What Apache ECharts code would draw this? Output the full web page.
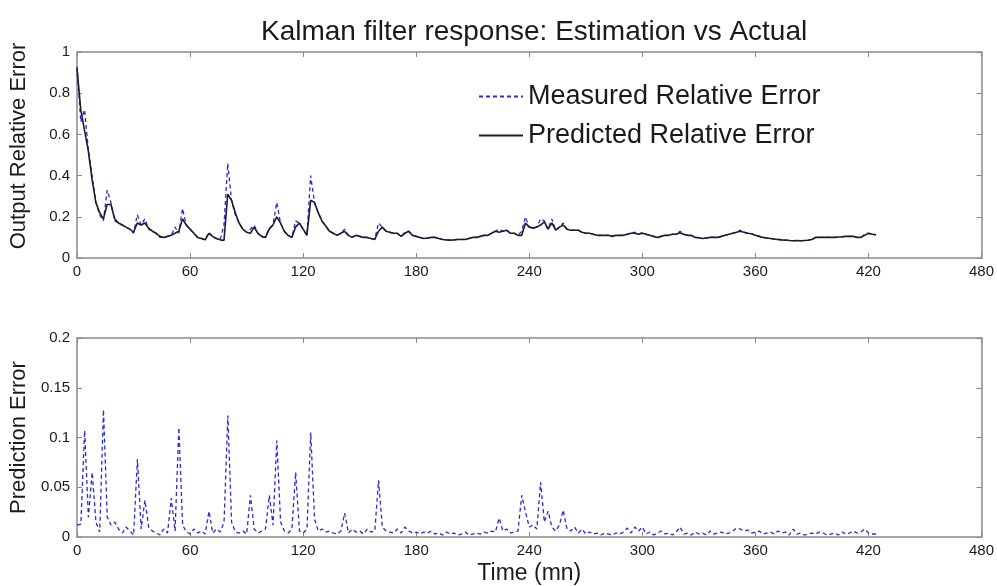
<!DOCTYPE html>
<html>
<head>
<meta charset="utf-8">
<script src="https://cdn.jsdelivr.net/npm/echarts@6/dist/echarts.min.js"></script>
<style>
html,body{margin:0;padding:0;background:#fff;}
#chart{width:997px;height:586px;}
</style>
</head>
<body>
<div id="chart"></div>
<script>
// Time in minutes (sample instants)
const timeMin = [
0,2,4,6,8,10,12,14,16,18,
20,22,24,26,28,30,32,34,36,38,
40,42,44,46,48,50,52,54,56,58,
60,62,64,66,68,70,72,74,76,78,
80,82,84,86,88,90,92,94,96,98,
100,102,104,106,108,110,112,114,116,118,
120,122,124,126,128,130,132,134,136,138,
140,142,144,146,148,150,152,154,156,158,
160,162,164,166,168,170,172,174,176,178,
180,182,184,186,188,190,192,194,196,198,
200,202,204,206,208,210,212,214,216,218,
220,222,224,226,228,230,232,234,236,238,
240,242,244,246,248,250,252,254,256,258,
260,262,264,266,268,270,272,274,276,278,
280,282,284,286,288,290,292,294,296,298,
300,302,304,306,308,310,312,314,316,318,
320,322,324,326,328,330,332,334,336,338,
340,342,344,346,348,350,352,354,356,358,
360,362,364,366,368,370,372,374,376,378,
380,382,384,386,388,390,392,394,396,398,
400,402,404,406,408,410,412,414,416,418,
420,422,424];

// Measured relative error (blue dashed, top panel)
const measuredErr = [
0.93,0.66,0.72,0.53,0.40,0.27,0.21,0.18,0.33,0.27,
0.18,0.17,0.16,0.15,0.14,0.12,0.21,0.16,0.19,0.14,
0.13,0.12,0.10,0.10,0.105,0.11,0.15,0.12,0.24,0.16,
0.14,0.12,0.10,0.095,0.088,0.125,0.10,0.095,0.088,0.16,
0.46,0.28,0.21,0.17,0.14,0.125,0.14,0.16,0.12,0.105,
0.10,0.145,0.16,0.27,0.17,0.13,0.11,0.10,0.18,0.17,
0.14,0.11,0.40,0.27,0.22,0.18,0.155,0.13,0.12,0.11,
0.12,0.14,0.11,0.10,0.11,0.105,0.10,0.10,0.095,0.09,
0.17,0.15,0.13,0.125,0.12,0.12,0.105,0.125,0.13,0.11,
0.105,0.10,0.095,0.097,0.10,0.10,0.095,0.09,0.088,0.087,
0.088,0.09,0.09,0.09,0.095,0.10,0.10,0.105,0.11,0.11,
0.12,0.13,0.14,0.13,0.135,0.12,0.12,0.11,0.13,0.20,
0.15,0.145,0.15,0.19,0.18,0.14,0.19,0.135,0.15,0.17,
0.14,0.135,0.135,0.135,0.125,0.12,0.12,0.115,0.11,0.11,
0.11,0.11,0.105,0.11,0.11,0.11,0.115,0.12,0.125,0.115,
0.125,0.115,0.11,0.105,0.10,0.105,0.11,0.11,0.115,0.115,
0.13,0.115,0.11,0.11,0.10,0.098,0.095,0.097,0.10,0.10,
0.10,0.105,0.11,0.115,0.12,0.125,0.135,0.125,0.12,0.118,
0.11,0.105,0.10,0.097,0.095,0.092,0.09,0.088,0.087,0.085,
0.084,0.085,0.084,0.085,0.086,0.09,0.10,0.10,0.10,0.10,
0.10,0.10,0.102,0.103,0.105,0.105,0.105,0.10,0.10,0.115,
0.12,0.115,0.113];

// Predicted relative error (black solid, top panel)
const predictedErr = [
0.92,0.72,0.62,0.52,0.38,0.27,0.22,0.19,0.26,0.26,
0.19,0.17,0.16,0.15,0.14,0.125,0.17,0.16,0.17,0.145,
0.13,0.12,0.105,0.10,0.105,0.11,0.12,0.13,0.19,0.16,
0.14,0.12,0.10,0.095,0.088,0.12,0.105,0.095,0.088,0.085,
0.31,0.28,0.22,0.17,0.14,0.125,0.12,0.15,0.12,0.105,
0.10,0.14,0.16,0.20,0.17,0.13,0.11,0.10,0.15,0.17,
0.14,0.11,0.28,0.27,0.22,0.18,0.155,0.13,0.12,0.11,
0.12,0.13,0.11,0.10,0.11,0.105,0.10,0.10,0.095,0.09,
0.13,0.15,0.13,0.125,0.12,0.12,0.105,0.12,0.13,0.11,
0.105,0.10,0.095,0.097,0.10,0.10,0.095,0.09,0.088,0.087,
0.088,0.09,0.09,0.09,0.095,0.10,0.10,0.105,0.11,0.11,
0.12,0.13,0.125,0.13,0.135,0.12,0.12,0.11,0.11,0.17,
0.15,0.145,0.15,0.16,0.175,0.14,0.17,0.135,0.15,0.16,
0.14,0.135,0.135,0.135,0.125,0.12,0.12,0.115,0.11,0.11,
0.11,0.11,0.105,0.11,0.11,0.11,0.115,0.12,0.12,0.115,
0.12,0.115,0.11,0.105,0.10,0.105,0.11,0.11,0.115,0.115,
0.123,0.115,0.11,0.11,0.10,0.098,0.095,0.097,0.10,0.10,
0.10,0.105,0.11,0.115,0.12,0.125,0.13,0.125,0.12,0.118,
0.11,0.105,0.10,0.097,0.095,0.092,0.09,0.088,0.087,0.085,
0.084,0.085,0.084,0.085,0.086,0.09,0.10,0.10,0.10,0.10,
0.10,0.10,0.102,0.103,0.105,0.105,0.105,0.10,0.10,0.11,
0.12,0.115,0.113];

// Prediction error (blue dashed, bottom panel)
const predictionErr = [
0.012,0.013,0.107,0.02,0.065,0.015,0.005,0.128,0.02,0.012,
0.015,0.008,0.004,0.01,0.006,0.002,0.078,0.008,0.037,0.01,
0.006,0.004,0.002,0.008,0.004,0.039,0.006,0.11,0.012,0.005,
0.003,0.008,0.004,0.006,0.003,0.026,0.004,0.008,0.005,0.015,
0.122,0.015,0.005,0.004,0.006,0.003,0.042,0.008,0.004,0.006,
0.008,0.042,0.012,0.097,0.015,0.006,0.004,0.008,0.065,0.006,
0.004,0.008,0.105,0.018,0.006,0.008,0.005,0.006,0.004,0.003,
0.006,0.024,0.004,0.008,0.005,0.006,0.003,0.008,0.005,0.006,
0.057,0.01,0.006,0.005,0.004,0.008,0.004,0.01,0.006,0.004,
0.005,0.003,0.005,0.004,0.006,0.003,0.004,0.002,0.005,0.003,
0.004,0.002,0.003,0.005,0.002,0.003,0.004,0.003,0.005,0.004,
0.006,0.005,0.019,0.006,0.008,0.004,0.005,0.006,0.042,0.025,
0.01,0.012,0.008,0.055,0.015,0.026,0.01,0.006,0.012,0.027,
0.008,0.006,0.01,0.004,0.008,0.003,0.005,0.003,0.004,0.002,
0.004,0.003,0.002,0.004,0.003,0.005,0.009,0.004,0.01,0.006,
0.01,0.003,0.005,0.002,0.004,0.006,0.003,0.004,0.002,0.005,
0.01,0.003,0.004,0.002,0.005,0.003,0.004,0.002,0.006,0.003,
0.004,0.005,0.003,0.004,0.006,0.009,0.008,0.006,0.007,0.004,
0.005,0.006,0.003,0.004,0.005,0.003,0.006,0.004,0.005,0.002,
0.008,0.003,0.004,0.002,0.003,0.004,0.003,0.005,0.004,0.002,
0.003,0.004,0.002,0.005,0.003,0.004,0.006,0.004,0.005,0.008,
0.004,0.003,0.003];

const xTicks = {min: 0, max: 480, interval: 60};
const topYTicks = {min: 0, max: 1, interval: 0.2};
const botYTicks = {min: 0, max: 0.2, interval: 0.05};

const FONT = '"Liberation Sans", Arial, Helvetica, sans-serif';
const AXIS_COLOR = '#8a8a8a';
const TEXT_COLOR = '#1a1a1a';

function pairs(xs, ys){ return xs.map((x, i) => [x, ys[i]]); }

function xAxisCfg(grid, pos, showLabel, extra){
  return Object.assign({
    type: 'value', gridIndex: grid, position: pos,
    min: xTicks.min, max: xTicks.max, interval: xTicks.interval,
    axisLine: {show: true, onZero: false, lineStyle: {color: AXIS_COLOR, width: 1.5}},
    axisTick: {show: true, inside: true, length: 5, lineStyle: {color: AXIS_COLOR}},
    axisLabel: {show: showLabel, fontFamily: FONT, fontSize: 15, color: TEXT_COLOR, margin: 6},
    splitLine: {show: false}
  }, extra || {});
}
function yAxisCfg(grid, pos, showLabel, ticks, extra){
  return Object.assign({
    type: 'value', gridIndex: grid, position: pos,
    min: ticks.min, max: ticks.max, interval: ticks.interval,
    axisLine: {show: true, onZero: false, lineStyle: {color: AXIS_COLOR, width: 1.5}},
    axisTick: {show: true, inside: true, length: 5, lineStyle: {color: AXIS_COLOR}},
    axisLabel: {show: showLabel, fontFamily: FONT, fontSize: 15, color: TEXT_COLOR, margin: 7},
    splitLine: {show: false}
  }, extra || {});
}

const chart = echarts.init(document.getElementById('chart'), null, {renderer: 'canvas'});
chart.setOption({
  backgroundColor: '#ffffff',
  animation: false,
  title: {
    text: 'Kalman filter response: Estimation vs Actual',
    left: 256, top: 13,
    textStyle: {fontFamily: FONT, fontSize: 28, fontWeight: 'normal', color: TEXT_COLOR}
  },
  legend: {
    data: ['Measured Relative Error', 'Predicted Relative Error'],
    orient: 'vertical', left: 473, top: 78,
    itemWidth: 44, itemHeight: 14, itemGap: 12,
    itemStyle: {opacity: 0},
    textStyle: {fontFamily: FONT, fontSize: 27, color: TEXT_COLOR},
    selectedMode: false
  },
  grid: [
    {left: 75, right: 11, top: 52, height: 206},
    {left: 75, right: 11, top: 338, height: 205}
  ],
  xAxis: [
    xAxisCfg(0, 'bottom', true),
    xAxisCfg(0, 'top', false),
    xAxisCfg(1, 'bottom', true, {
      name: 'Time (mn)', nameLocation: 'middle', nameGap: 25,
      nameTextStyle: {fontFamily: FONT, fontSize: 23, color: TEXT_COLOR}
    }),
    xAxisCfg(1, 'top', false)
  ],
  yAxis: [
    yAxisCfg(0, 'left', true, topYTicks, {
      name: 'Output Relative Error', nameLocation: 'middle', nameGap: 47,
      nameTextStyle: {fontFamily: FONT, fontSize: 22, color: TEXT_COLOR, padding: [0, 0, 0, 18]}
    }),
    yAxisCfg(0, 'right', false, topYTicks),
    yAxisCfg(1, 'left', true, botYTicks, {
      name: 'Prediction Error', nameLocation: 'middle', nameGap: 47,
      nameTextStyle: {fontFamily: FONT, fontSize: 22, color: TEXT_COLOR}
    }),
    yAxisCfg(1, 'right', false, botYTicks)
  ],
  series: [
    {
      name: 'Measured Relative Error', type: 'line', xAxisIndex: 0, yAxisIndex: 0,
      data: pairs(timeMin, measuredErr), symbol: 'none', showSymbol: false,
      lineStyle: {color: '#2a2ad6', width: 1.3, type: [4, 3]},
      itemStyle: {color: '#2a2ad6'}, z: 2
    },
    {
      name: 'Predicted Relative Error', type: 'line', xAxisIndex: 0, yAxisIndex: 0,
      data: pairs(timeMin, predictedErr), symbol: 'none', showSymbol: false,
      lineStyle: {color: '#1c1c2c', width: 1.6},
      itemStyle: {color: '#1c1c2c'}, z: 3
    },
    {
      name: 'Prediction Error', type: 'line', xAxisIndex: 2, yAxisIndex: 2,
      data: pairs(timeMin, predictionErr), symbol: 'none', showSymbol: false,
      lineStyle: {color: '#2a2ad6', width: 1.3, type: [4, 3]},
      itemStyle: {color: '#2a2ad6'}, z: 2
    }
  ]
});
</script>
</body>
</html>
